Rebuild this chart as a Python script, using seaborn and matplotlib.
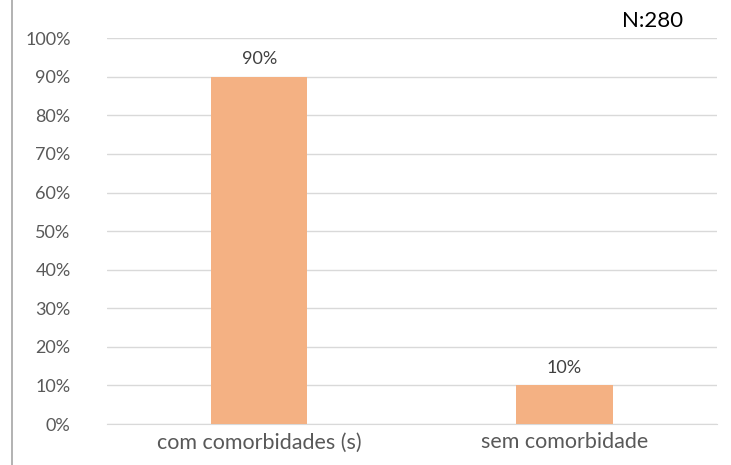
import pandas as pd
import matplotlib.pyplot as plt
import seaborn as sns
from matplotlib.lines import Line2D
from matplotlib.ticker import PercentFormatter, MultipleLocator

categorias = ["com comorbidades (s)", "sem comorbidade"]
valores = [0.90, 0.10]
rotulos = ["90%", "10%"]

df = pd.DataFrame({"categoria": categorias, "valor": valores})

sns.set_style("white")
plt.rcParams['font.family'] = ['Lato', 'DejaVu Sans']

fig = plt.figure(figsize=(7.31, 4.65), dpi=100)
ax = fig.add_axes([0.146, 0.088, 0.835, 0.830])

sns.barplot(data=df, x="categoria", y="valor", color="#F4B183", width=0.315,
            saturation=1, linewidth=0, ax=ax, zorder=3)

ax.set_ylim(0, 1.0)
ax.yaxis.set_major_locator(MultipleLocator(0.1))
ax.yaxis.set_major_formatter(PercentFormatter(1.0, decimals=0))
ax.grid(axis="y", color="#D9D9D9", linewidth=1, zorder=0)
for s in ax.spines.values():
    s.set_visible(False)
ax.spines["bottom"].set_visible(True)
ax.spines["bottom"].set_color("#D9D9D9")
ax.tick_params(axis="both", length=0, colors="#595959")
ax.tick_params(axis="y", pad=26, labelsize=13)
ax.tick_params(axis="x", pad=6, labelsize=15.5)
ax.set_xlabel("")
ax.set_ylabel("")

for i, (v, t) in enumerate(zip(valores, rotulos)):
    ax.text(i, v + 0.025, t, ha="center", va="bottom", fontsize=13, color="#404040")

fig.text(0.893, 0.955, "N:280", ha="center", va="center", fontsize=16, color="black")
fig.add_artist(Line2D([0.017, 0.017], [0, 1], color="#A6A6A6", linewidth=1.2))

fig.savefig("out.png", dpi=100)
